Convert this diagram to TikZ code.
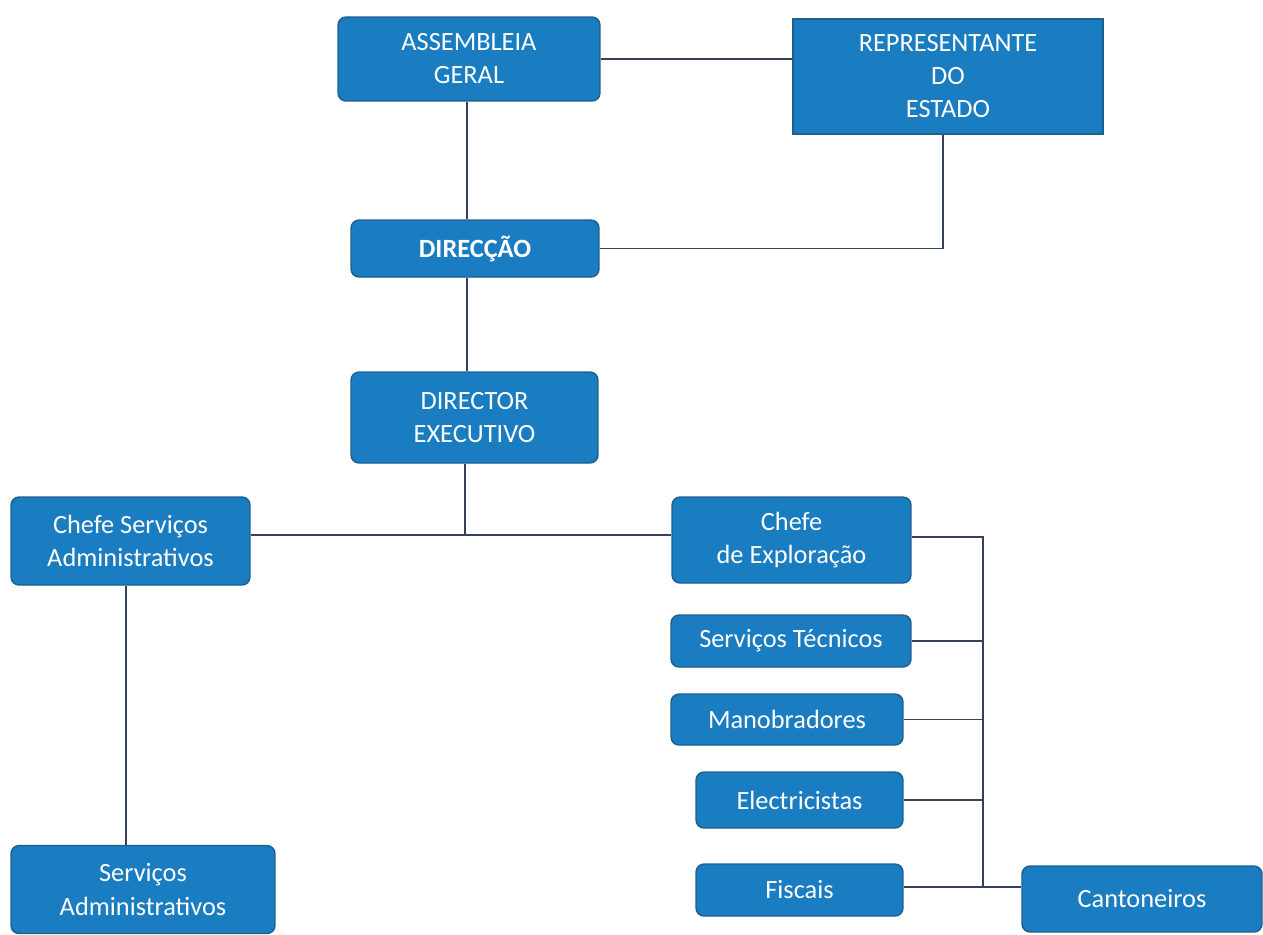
\documentclass[tikz,border=0pt]{standalone}
\usepackage{fontspec}
\setmainfont{Carlito}
\usepackage{tikz}
\usetikzlibrary{calc}
\definecolor{cbox}{HTML}{1A7CC1}
\definecolor{cedge}{HTML}{1E5F8E}
\definecolor{cline}{HTML}{33405E}

\begin{document}
\begin{tikzpicture}[x=0.02cm, y=-0.02cm,
  unit/.style={draw=cedge, line width=0.8pt, fill=cbox, text=white, rounded corners=0.16cm,
    align=center, inner sep=0pt, font=\fontsize{15}{18.8}\selectfont},
  sharpunit/.style={unit, rounded corners=0pt},
  link/.style={cline, line width=0.9pt}]
  \useasboundingbox (0,0) rectangle (1263,934);
  \node[unit, minimum width=5.24cm, minimum height=1.68cm] (assembleia) at (469,59) {ASSEMBLEIA\\GERAL};
  \node[sharpunit, minimum width=6.2cm, minimum height=2.3cm] (representante) at (948,76.5) {REPRESENTANTE\\DO\\ESTADO};
  \node[unit, minimum width=4.96cm, minimum height=1.14cm] (direccao) at (475,248.5) {\bfseries DIRECÇÃO};
  \node[unit, minimum width=4.94cm, minimum height=1.82cm] (director) at (474.5,417.5) {DIRECTOR\\EXECUTIVO};
  \node[unit, minimum width=4.78cm, minimum height=1.76cm] (chefesa) at (130.5,541) {Chefe Serviços\\Administrativos};
  \node[unit, minimum width=4.78cm, minimum height=1.72cm] (chefeexp) at (791.5,540) {Chefe\\de Exploração};
  \node[unit, minimum width=4.8cm, minimum height=1.04cm] (tecnicos) at (791,641) {Serviços Técnicos};
  \node[unit, minimum width=4.64cm, minimum height=1.02cm] (manobradores) at (787,719.5) {Manobradores};
  \node[unit, minimum width=4.14cm, minimum height=1.12cm] (electricistas) at (799.5,800) {Electricistas};
  \node[unit, minimum width=4.14cm, minimum height=1.04cm] (fiscais) at (799.5,890) {Fiscais};
  \node[unit, minimum width=4.8cm, minimum height=1.32cm] (cantoneiros) at (1142,899) {Cantoneiros};
  \node[unit, minimum width=5.28cm, minimum height=1.76cm] (servadmin) at (143,889.5) {Serviços\\Administrativos};
  \coordinate (bus) at (983,0);
  \coordinate (junction) at ($(chefesa.east)+(0,-6)$);
  \draw[link] (assembleia.east) -- (assembleia.east -| representante.west);
  \draw[link] ($(assembleia.south)+(-2,0)$) -- ($(assembleia.south |- direccao.north)+(-2,0)$);
  \draw[link] ($(representante.south)+(-5,0)$) |- (direccao.east);
  \draw[link] ($(direccao.south)+(-8,0)$) -- ($(direccao.south |- director.north)+(-8,0)$);
  \draw[link] ($(director.south)+(-9.5,0)$) -- ($(director.south |- junction)+(-9.5,0)$);
  \draw[link] (junction) -- (junction -| chefeexp.west);
  \draw[link] ($(chefesa.south)+(-4.5,0)$) -- ($(chefesa.south |- servadmin.north)+(-4.5,0)$);
  \draw[link] ($(chefeexp.east)+(0,-3)$) -| ($(bus |- fiscais.east)+(0,-3)$);
  \draw[link] (tecnicos.east) -- (tecnicos.east -| bus);
  \draw[link] (manobradores.east) -- (manobradores.east -| bus);
  \draw[link] (electricistas.east) -- (electricistas.east -| bus);
  \draw[link] ($(fiscais.east)+(0,-3)$) -- ($(fiscais.east -| cantoneiros.west)+(0,-3)$);
\end{tikzpicture}
\end{document}
